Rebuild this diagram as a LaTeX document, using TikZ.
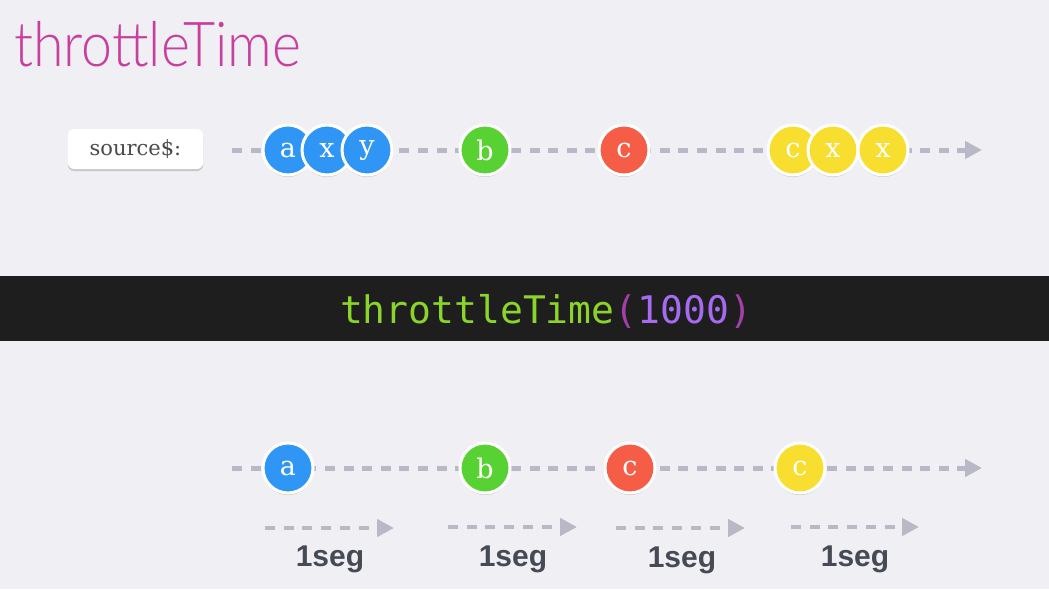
\documentclass[tikz,border=0pt]{standalone}
\usepackage{fontspec}
\usetikzlibrary{arrows.meta,shadows}
\newfontfamily\titlefont{Lato Light}
\newfontfamily\marblefont{DejaVu Serif}
\newfontfamily\codefont{DejaVu Sans Mono}
\newfontfamily\labelfont{Liberation Sans}
\definecolor{bg}{HTML}{EFEFF4}
\definecolor{band}{HTML}{1E1E1E}
\definecolor{titlecol}{HTML}{C93FA0}
\definecolor{dashcol}{HTML}{B8B8C6}
\definecolor{mblue}{HTML}{2F96F5}
\definecolor{mgreen}{HTML}{58D132}
\definecolor{mred}{HTML}{F55D47}
\definecolor{myellow}{HTML}{F8DE2F}
\definecolor{codegreen}{HTML}{8BD42A}
\definecolor{codeparen}{HTML}{A23FA8}
\definecolor{codenum}{HTML}{A66BF0}
\definecolor{labelgray}{HTML}{454A55}
\definecolor{srcgray}{HTML}{4A4A4A}
\tikzset{
  timeline/.style={draw=dashcol, line width=5pt, dash pattern=on 10pt off 8.6pt,
    -{Triangle[length=17pt,width=17pt,fill=dashcol]}},
  spanline/.style={draw=dashcol, line width=4.5pt, dash pattern=on 10pt off 8.7pt,
    -{Triangle[length=17pt,width=17pt,fill=dashcol]}},
  marble/.style={circle, fill=#1, draw=white, line width=3pt, minimum size=50pt, inner sep=0pt,
    text=white, font=\marblefont\fontsize{27}{27}\selectfont,
    drop shadow={shadow xshift=0pt, shadow yshift=-2pt, opacity=0.18, fill=black}},
  seglabel/.style={text=labelgray, font=\labelfont\bfseries\fontsize{30}{30}\selectfont, anchor=base},
}
\begin{document}
\begin{tikzpicture}[x=1pt,y=-1pt]
\useasboundingbox[fill=bg] (0,0) rectangle (1049,589);
% title
\node[anchor=base west, inner sep=0pt, text=titlecol, font=\titlefont\fontsize{62}{62}\selectfont] (title) at (14,66) {\scalebox{0.895}[1]{throttleTime}};
% source label
\fill[color=black!22, rounded corners=6pt] (68,131) rectangle (203,171);
\node[fill=white, rounded corners=6pt, minimum width=135pt, minimum height=40pt, inner sep=0pt,
  text=srcgray, font=\marblefont\fontsize{21}{21}\selectfont] (src) at (135.5,149) {source\$:};
% top timeline
\coordinate (ts) at (232,150);
\coordinate (te) at (982,150);
\draw[timeline] (ts) -- (te);
\node[marble=mblue] (a1) at (288,150) {a};
\node[marble=mblue] (x1) at (327,150) {x};
\node[marble=mblue] (y1) at (367,150) {y};
\node[marble=mgreen] (b1) at (485,150) {b};
\node[marble=mred] (c1) at (624,150) {c};
\node[marble=myellow] (c2) at (793,150) {c};
\node[marble=myellow] (x2) at (833,150) {x};
\node[marble=myellow] (x3) at (883,150) {x};
% band
\fill[band] (0,276) rectangle (1049,341);
\node[font=\codefont\fontsize{38}{38}\selectfont, inner sep=0pt] (op) at (546,311)
  {\textcolor{codegreen}{throttleTime}\textcolor{codeparen}{(}\textcolor{codenum}{1000}\textcolor{codeparen}{)}};
% bottom timeline
\coordinate (bs) at (232,468);
\coordinate (be) at (982,468);
\draw[timeline] (bs) -- (be);
\node[marble=mblue] (oa) at (288,468) {a};
\node[marble=mgreen] (ob) at (485,468) {b};
\node[marble=mred] (oc) at (630,468) {c};
\node[marble=myellow] (od) at (800,468) {c};
% spans
\coordinate (s1s) at (265,528); \coordinate (s1e) at (394,528);
\coordinate (s2s) at (448,527); \coordinate (s2e) at (577,527);
\coordinate (s3s) at (616,528); \coordinate (s3e) at (745,528);
\coordinate (s4s) at (791,527); \coordinate (s4e) at (919,527);
\draw[spanline] (s1s) -- (s1e);
\draw[spanline] (s2s) -- (s2e);
\draw[spanline] (s3s) -- (s3e);
\draw[spanline] (s4s) -- (s4e);
\node[seglabel] (l1) at (330,566) {1seg};
\node[seglabel] (l2) at (513,566) {1seg};
\node[seglabel] (l3) at (682,567) {1seg};
\node[seglabel] (l4) at (855,566) {1seg};
\end{tikzpicture}
\end{document}
